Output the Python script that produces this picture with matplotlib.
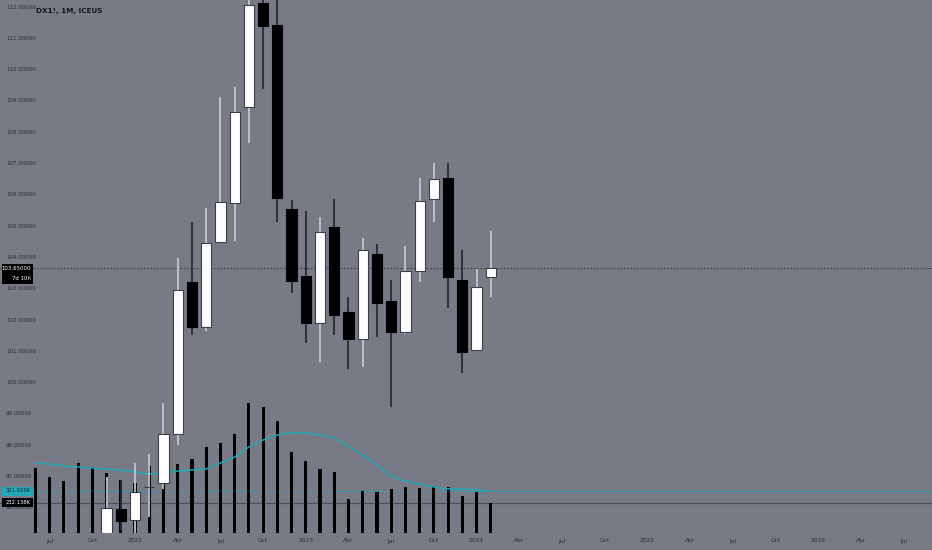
import matplotlib
matplotlib.use("Agg")
import matplotlib.pyplot as plt
from matplotlib.patches import Rectangle
from matplotlib import font_manager

# ---------------- data ----------------
# month index: 0 = Jan 2022
candle_months = list(range(-2, 26))  # Nov 2021 .. Feb 2024
opens  = [94.20, 95.96, 95.60, 96.66, 96.80, 98.36, 103.20, 101.78, 104.49, 105.74, 108.80, 112.13, 111.42, 105.55,
          103.40, 101.90, 104.97, 102.26, 101.39, 104.11, 102.61, 101.62, 103.57, 105.87, 106.54, 103.28, 101.04, 103.37]
highs  = [97.00, 96.90, 97.43, 97.72, 99.35, 103.98, 105.13, 105.58, 109.12, 109.44, 114.78, 113.90, 113.10, 105.83,
          105.48, 105.29, 105.87, 102.74, 104.62, 104.43, 103.28, 104.36, 106.54, 107.02, 107.02, 104.24, 103.63, 104.84]
lows   = [93.90, 95.30, 95.10, 95.70, 96.60, 98.00, 101.52, 101.65, 104.49, 104.52, 107.65, 109.38, 105.13, 102.86,
          101.27, 100.66, 101.52, 100.43, 100.50, 101.46, 99.22, 101.55, 103.21, 105.13, 102.38, 100.31, 101.04, 102.74]
closes = [95.99, 95.58, 96.50, 96.68, 98.36, 102.96, 101.78, 104.46, 105.77, 108.65, 112.06, 111.39, 105.90, 103.25,
          101.90, 104.81, 102.16, 101.39, 104.24, 102.54, 101.62, 103.57, 105.80, 106.50, 103.37, 100.98, 103.05, 103.65]

volume_months = list(range(-7, 26))  # Jun 2021 .. Feb 2024
volumes = [503, 433, 402, 542, 511, 464, 410, 387, 519, 619, 534, 573, 666, 697, 766, 1006, 975, 867, 627, 557,
           495, 472, 263, 325, 317, 341, 356, 348, 364, 356, 286, 317, 232.138]  # thousands
volume_ma = [542, 534, 519, 511, 503, 495, 488, 472, 457, 464, 480, 488, 495, 542, 588, 666, 720, 759, 774, 774,
             759, 735, 673, 604, 526, 441, 402, 379, 356, 341, 341, 333, 321.626]  # thousands

tick_months = list(range(-6, 55, 3))
tick_labels = ["Jul", "Oct", "2022", "Abr", "Jul", "Oct", "2023", "Abr", "Jul", "Oct", "2024",
               "Abr", "Jul", "Oct", "2025", "Abr", "Jul", "Oct", "2026", "Abr", "Jul"]
price_ticks = list(range(96, 113))
title = "DX1!, 1M, ICEUS"
countdown = "7d 10h"

# ---------------- style ----------------
BG = "#787b86"
TXT = "#2b2d33"
CYAN = "#22a7b6"
_avail = {f.name for f in font_manager.fontManager.ttflist}
NARROW = [f for f in ["Liberation Sans Narrow", "DejaVu Sans Condensed"] if f in _avail] + ["DejaVu Sans"]
W, H = 932, 550

fig = plt.figure(figsize=(W / 100, H / 100), dpi=100, facecolor=BG)
ax_v = fig.add_axes([0, 17 / H, 1, 533 / H])
ax_v.set_facecolor(BG)
ax_p = ax_v.twinx()
ax_p.patch.set_visible(False)
for a in (ax_v, ax_p):
    a.set_xlim(-9.487, 56.0)
    for s in a.spines.values():
        s.set_visible(False)
    a.set_xticks([])
    a.set_yticks([])
ax_v.set_ylim(0, 4125)
ax_p.set_ylim(95.195, 112.224)

# volume
ax_v.bar(volume_months, volumes, width=0.22, color="#000000", zorder=2)
ax_v.plot(volume_months, volume_ma, color=CYAN, lw=1.1, zorder=3)
ax_v.axhline(volume_ma[-1], color=CYAN, lw=0.6, alpha=0.8, zorder=1)
ax_v.axhline(volumes[-1], color="#4d505a", lw=0.9, zorder=1)

# candles
for m, o, h, l, c in zip(candle_months, opens, highs, lows, closes):
    up = c >= o
    wick_col = "#c4c6cc" if up else "#2a2c33"
    ax_p.vlines(m, l, h, color=wick_col, lw=1.3, zorder=3)
    body_h = max(abs(c - o), 0.02)
    ax_p.bar(m, body_h, bottom=min(o, c), width=0.72,
             color="#ffffff" if up else "#000000",
             edgecolor="#3c3f47" if up else "#000000", linewidth=0.8, zorder=4)

# last price line
ax_p.axhline(closes[-1], color="#3e414a", lw=0.8, ls=(0, (1.5, 1.5)), zorder=2)

# price scale labels (drawn inside the plot)
for p in price_ticks:
    ax_p.text(6 / W, p, f"{p:.5f}", transform=ax_p.get_yaxis_transform(), ha="left", va="center",
              fontsize=4.0, color=TXT, family=NARROW, zorder=5)

# time labels
for m, lab in zip(tick_months, tick_labels):
    fig.text((135 + 14.23 * m) / W, 1 - 541 / H, lab, ha="center", va="center",
             fontsize=4.2, color=TXT, family=NARROW)

# title
fig.text(36 / W, 1 - 11 / H, title, ha="left", va="center", fontsize=5.2, fontweight="bold",
         color="#15171c", family=NARROW)

def box(x0, y0, w, h, col):
    fig.add_artist(Rectangle((x0 / W, 1 - (y0 + h) / H), w / W, h / H, transform=fig.transFigure,
                             facecolor=col, edgecolor="none", zorder=10))

# last price label
box(2, 264, 31, 20, "#000000")
fig.text(31 / W, 1 - 269 / H, f"{closes[-1]:.5f}", ha="right", va="center", fontsize=3.9,
         color="#ffffff", family=NARROW, zorder=11)
fig.text(31 / W, 1 - 278.5 / H, countdown, ha="right", va="center", fontsize=3.9,
         color="#ffffff", family=NARROW, zorder=11)

# volume labels
box(2, 487, 31, 8.5, CYAN)
fig.text(31 / W, 1 - 491 / H, f"{volume_ma[-1]:.3f}K", ha="right", va="center", fontsize=3.8,
         color="#1c2a30", family=NARROW, zorder=11)
box(2, 498, 31, 9, "#000000")
fig.text(31 / W, 1 - 502.5 / H, f"{volumes[-1]:.3f}K", ha="right", va="center", fontsize=3.8,
         color="#ffffff", family=NARROW, zorder=11)

fig.savefig("out.png", dpi=100, facecolor=BG)
